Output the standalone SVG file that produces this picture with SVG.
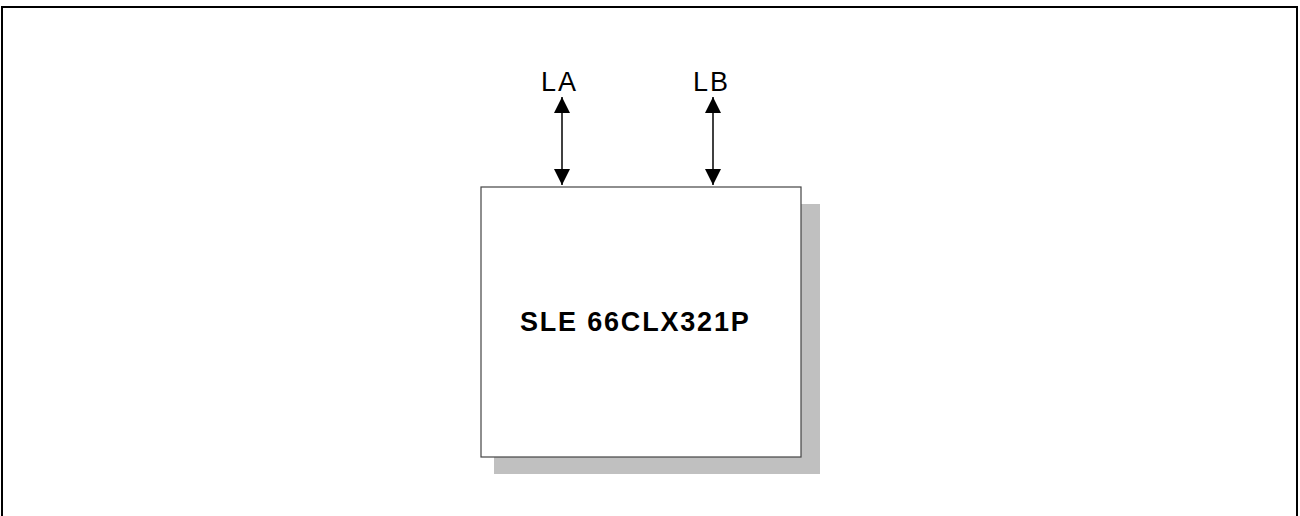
<svg xmlns="http://www.w3.org/2000/svg" width="1300" height="516" viewBox="0 0 1300 516">
<defs>
<marker id="ah" viewBox="0 0 16 16" refX="16" refY="8" markerWidth="16" markerHeight="16" markerUnits="userSpaceOnUse" orient="auto-start-reverse">
<path d="M0,0 L16,8 L0,16 Z" fill="#000"/>
</marker>
<style>
.lbl{font-family:"Liberation Sans",Arial,sans-serif;font-size:27px;letter-spacing:2px;fill:#000}
.main{font-family:"Liberation Sans",Arial,sans-serif;font-size:27px;font-weight:bold;letter-spacing:1.8px;fill:#000}
.conn{stroke:#000;stroke-width:1.5;fill:none}
</style>
</defs>
<rect x="0" y="0" width="1300" height="516" fill="#fff"/>
<rect x="2" y="7" width="1295" height="520" fill="none" stroke="#000" stroke-width="2"/>
<g id="chip">
<rect x="494" y="204" width="326" height="270" fill="#c0c0c0"/>
<rect x="481" y="187" width="320" height="270" fill="#fff" stroke="#444" stroke-width="1.2"/>
<text class="main" x="520" y="331">SLE 66CLX321P</text>
</g>
<g id="label-LA"><text class="lbl" x="541" y="91">LA</text></g>
<g id="label-LB"><text class="lbl" x="693" y="91">LB</text></g>
<g id="connectors">
<line class="conn" x1="562" y1="97" x2="562" y2="185" marker-start="url(#ah)" marker-end="url(#ah)"/>
<line class="conn" x1="713" y1="97" x2="713" y2="185" marker-start="url(#ah)" marker-end="url(#ah)"/>
</g>
</svg>
